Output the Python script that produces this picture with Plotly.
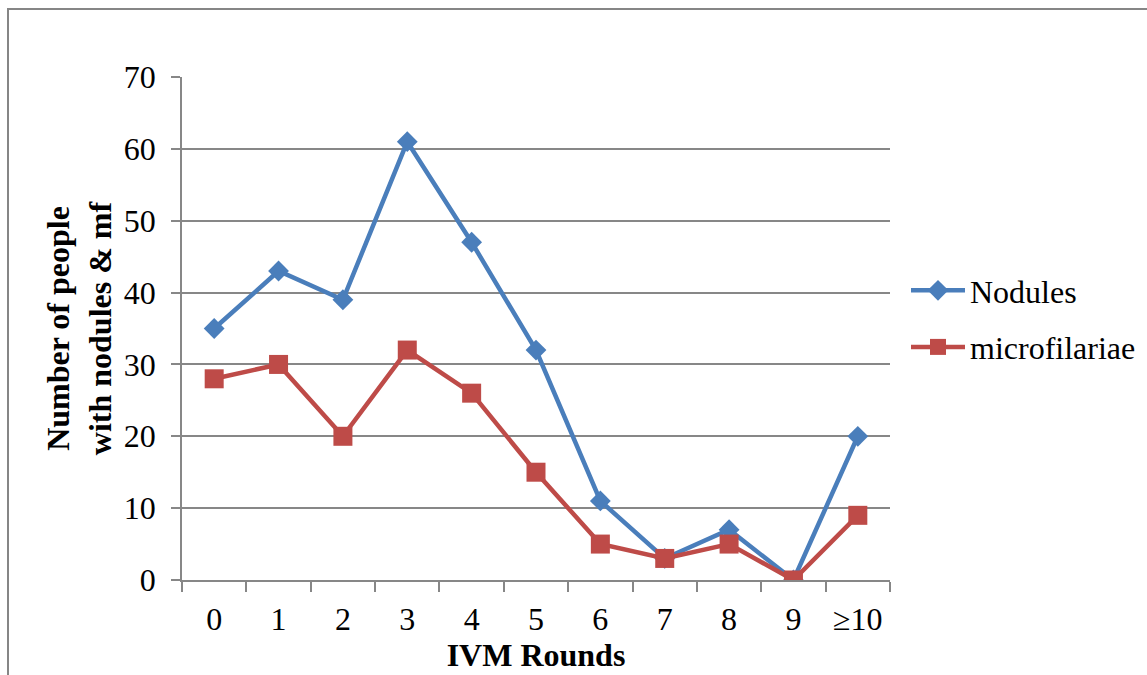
import plotly.graph_objects as go

categories = ["0", "1", "2", "3", "4", "5", "6", "7", "8", "9", "≥10"]
nodules = [35, 43, 39, 61, 47, 32, 11, 3, 7, 0, 20]
microfilariae = [28, 30, 20, 32, 26, 15, 5, 3, 5, 0, 9]

BLUE = "#4A7EBB"
RED = "#BE4B48"
GRID = "#878787"
FONT = "Liberation Serif"
FS = 32

fig = go.Figure()
fig.add_trace(go.Scatter(
    x=categories, y=nodules, name="Nodules", mode="lines+markers",
    legendgroup="a",
    line=dict(color=BLUE, width=4.5),
    marker=dict(symbol="diamond", size=16, color=BLUE),
))
fig.add_trace(go.Scatter(
    x=categories, y=microfilariae, name="microfilariae", mode="lines+markers",
    legendgroup="b",
    line=dict(color=RED, width=4.5),
    marker=dict(symbol="square", size=19, color=RED),
))

W, H = 1147, 675
L, R, T, B = 182, 1147 - 890, 77, 675 - 580
pw, ph = W - L - R, H - T - B

def px(xp):
    return (xp - L) / pw

def py(yp):
    return (H - B - yp) / ph

fig.update_layout(
    width=W, height=H,
    margin=dict(l=L, r=R, t=T, b=B, autoexpand=False),
    paper_bgcolor="white", plot_bgcolor="white",
    font=dict(family=FONT, size=FS, color="black"),
    showlegend=True,
    legend=dict(
        x=px(906), y=py(263), xanchor="left", yanchor="top",
        font=dict(family=FONT, size=FS, color="black"),
        itemwidth=54, traceorder="grouped", tracegroupgap=12,
        bgcolor="rgba(0,0,0,0)",
    ),
    xaxis=dict(
        type="category", tickson="boundaries", range=[-0.5, 10.5],
        showline=True, linecolor=GRID, linewidth=1.5,
        ticks="outside", ticklen=10, tickcolor=GRID, tickwidth=1.5,
        showgrid=False, zeroline=False,
        tickfont=dict(family=FONT, size=FS),
        ticklabelstandoff=10,
        title=dict(text="<b>IVM Rounds</b>", font=dict(family=FONT, size=FS), standoff=0),
    ),
    yaxis=dict(
        range=[0, 70], dtick=10, tick0=0,
        showline=True, linecolor=GRID, linewidth=1.5,
        ticks="outside", ticklen=9, tickcolor=GRID, tickwidth=1.5,
        showgrid=True, gridcolor=GRID, gridwidth=1.5, zeroline=False,
        tickfont=dict(family=FONT, size=FS),
        ticklabelstandoff=9,
        title=dict(text="<b>Number of people<br>with nodules & mf</b>",
                   font=dict(family=FONT, size=FS), standoff=3),
    ),
)

# outer chart border (left and top edges visible)
fig.add_shape(
    type="path", xref="paper", yref="paper",
    path=f"M {px(8)} {py(700)} L {px(8)} {py(9)} L {px(1160)} {py(9)}",
    line=dict(color="#868686", width=2), layer="below",
)

fig.write_html("out.html")
